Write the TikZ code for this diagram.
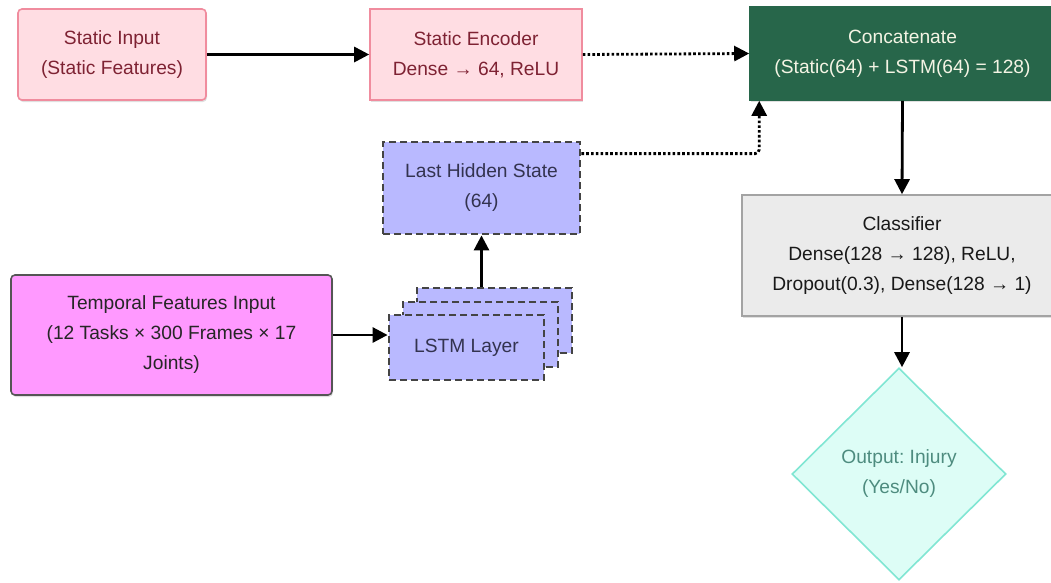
\documentclass[tikz,border=0pt]{standalone}
\usepackage{fontspec}
\setmainfont{Liberation Sans}
\frenchspacing
\usetikzlibrary{arrows.meta,shapes.geometric,shadows}
\definecolor{pinkfill}{HTML}{FFDDE3}
\definecolor{pinkdraw}{HTML}{F08C9E}
\definecolor{pinktext}{HTML}{7E2233}
\definecolor{greenfill}{HTML}{27664A}
\definecolor{greentext}{HTML}{F4F4E4}
\definecolor{lavfill}{HTML}{B9B9FF}
\definecolor{lavtext}{HTML}{33334F}
\definecolor{dashdraw}{HTML}{444444}
\definecolor{magfill}{HTML}{FF99FF}
\definecolor{magdraw}{HTML}{555555}
\definecolor{grayfill}{HTML}{EBEBEB}
\definecolor{graydraw}{HTML}{A3A3A3}
\definecolor{mintfill}{HTML}{DDFDF6}
\definecolor{mintdraw}{HTML}{80E6D3}
\definecolor{minttext}{HTML}{4E8C7F}
\begin{document}
\begin{tikzpicture}[x=1pt,y=-1pt,
  every node/.style={font=\fontsize{19.2}{30}\selectfont, align=center, inner sep=0pt},
  box/.style={rectangle, line width=1.6pt, minimum width=#1},
  shadowed/.style={drop shadow={shadow xshift=1pt, shadow yshift=-2pt, opacity=0.12, fill=black}},
  pinkbox/.style={fill=pinkfill, draw=pinkdraw, text=pinktext, shadowed},
  lavbox/.style={fill=lavfill, draw=dashdraw, text=lavtext, dash pattern=on 7pt off 4pt, line width=2.8pt},
  arr/.style={line width=2.8pt, -{Triangle[length=15pt,width=15pt]}},
  dotarr/.style={line width=2.8pt, dash pattern=on 2.6pt off 2.2pt, -{Triangle[length=15pt,width=15pt]}}
]
\useasboundingbox (0,0) rectangle (1051,582);
\fill[white] (0,0) rectangle (1051,582);

% top row
\node[box=188pt, minimum height=91pt, pinkbox, rounded corners=4pt] (sin) at (112,54.5) {Static Input\\(Static Features)};
\node[box=212pt, minimum height=91pt, pinkbox] (senc) at (476,54.5) {Static Encoder\\Dense → 64, ReLU};
\node[box=305pt, minimum height=93pt, fill=greenfill, draw=greenfill, text=greentext, shadowed] (cat) at (902.5,53.5) {Concatenate\\(Static(64) + LSTM(64) = 128)};

% LSTM branch
\node[box=197pt, minimum height=92pt, lavbox] (lhs) at (481.5,188) {Last Hidden State\\(64)};
\node[box=155pt, minimum height=65pt, lavbox] (lstm3) at (494.5,320.5) {};
\node[box=155pt, minimum height=65pt, lavbox] (lstm2) at (480.5,334.5) {};
\node[box=155pt, minimum height=65pt, lavbox] (lstm1) at (466.5,347.5) {LSTM Layer};
\node[box=321pt, minimum height=120pt, fill=magfill, draw=magdraw, text=black!85, rounded corners=4pt, shadowed] (temp) at (171.5,335) {Temporal Features Input\\(12 Tasks × 300 Frames × 17\\Joints)};

% classifier and output
\node[box=320pt, minimum height=121pt, fill=grayfill, draw=graydraw, text=black!90, shadowed] (cls) at (902,255.5) {Classifier\\Dense(128 → 128), ReLU,\\Dropout(0.3), Dense(128 → 1)};
\node[diamond, minimum width=214pt, minimum height=212pt, fill=mintfill, draw=mintdraw, line width=1.6pt, text=minttext] (out) at (899,474) {Output: Injury\\(Yes/No)};

% connectors
\draw[arr] (sin.east) -- (senc.west);
\draw[dotarr] (senc.east) -- (cat.west);
\draw[dotarr, rounded corners=4pt] ([yshift=-13pt]lhs.north east) -| ([xshift=10pt]cat.south west);
\draw[arr] (lhs.south |- lstm3.north) -- (lhs.south);
\draw[arr] (temp.east) -- (temp.east -| lstm1.west);
\draw[arr] (cat.south) -- (cls.north);
\draw[arr] (cls.south) -- (cls.south |- out.north);
\end{tikzpicture}
\end{document}
